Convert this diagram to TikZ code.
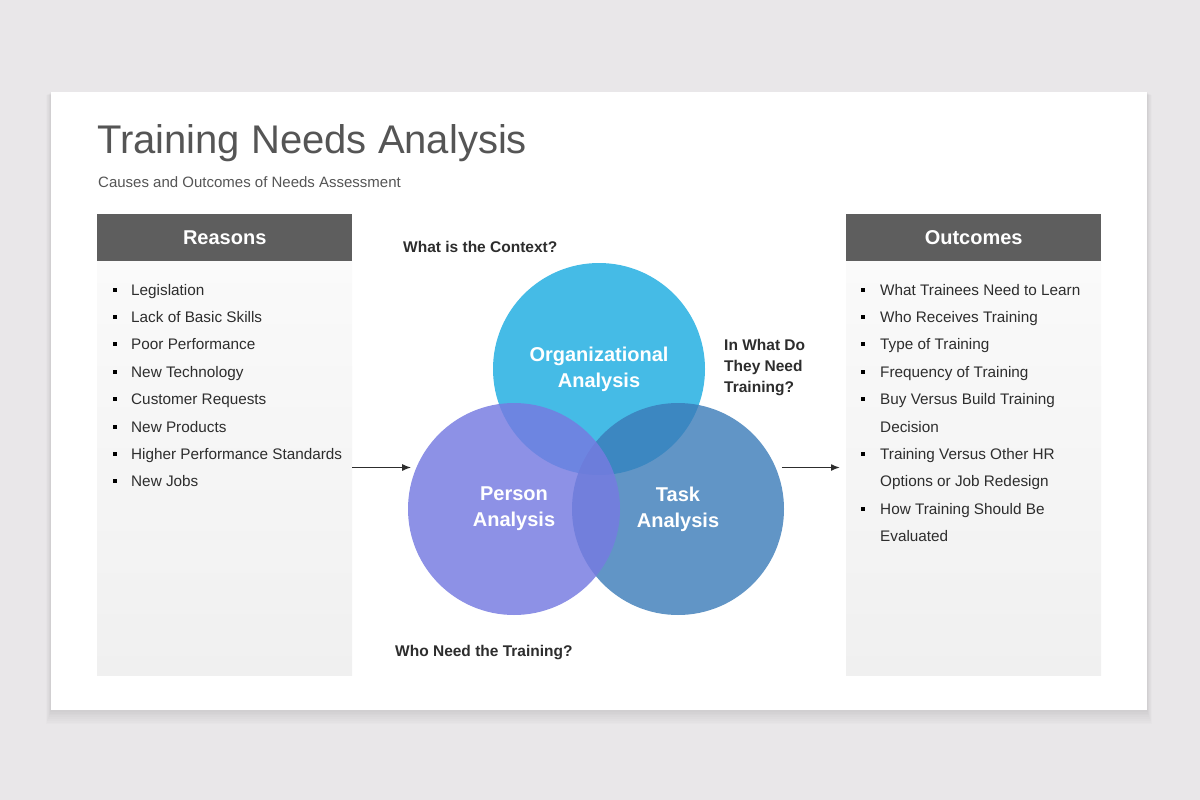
\documentclass[tikz,border=0pt]{standalone}
\usepackage{fontspec}
\setmainfont{Liberation Sans}
\usetikzlibrary{positioning,arrows.meta,calc}
\definecolor{pagegrey}{RGB}{233,231,233}
\definecolor{headgrey}{RGB}{94,94,94}
\definecolor{inkgrey}{RGB}{45,45,45}
\definecolor{titlegrey}{RGB}{85,85,85}
\definecolor{boxtop}{RGB}{250,250,250}
\definecolor{boxbottom}{RGB}{240,240,240}
\definecolor{orgblue}{RGB}{69,187,230}
\definecolor{personviolet}{RGB}{118,123,225}
\definecolor{taskblue}{RGB}{58,123,184}
\tikzset{
    % column header bar
    colhead/.style={
        fill=headgrey,
        text=white,
        font=\fontsize{20}{24}\selectfont\bfseries,
        minimum width=255pt,
        minimum height=47pt,
        inner sep=0pt,
    },
    % column body
    colbody/.style={
        top color=boxtop,
        bottom color=boxbottom,
        minimum width=255pt,
        minimum height=414pt,
        inner sep=0pt,
    },
    % list line
    listitem/.style={
        text=inkgrey,
        font=\fontsize{15.3}{19}\selectfont,
        anchor=base west,
        inner sep=0pt,
    },
    % square bullet
    bulletsq/.style={
        fill=black,
        minimum size=4pt,
        inner sep=0pt,
    },
    % Venn circle
    venn/.style={
        circle,
        minimum size=212pt,
        inner sep=0pt,
        text=white,
        text opacity=1,
        align=center,
        font=\fontsize{20}{26}\selectfont\bfseries,
    },
    % question label
    ask/.style={
        text=inkgrey,
        font=\fontsize{15.5}{21}\selectfont\bfseries,
        align=left,
        inner sep=0pt,
    },
    flow/.style={
        draw=inkgrey,
        line width=1.5pt,
        -{Latex[length=9pt,width=7pt]},
    },
}

\begin{document}
\begin{tikzpicture}[x=1pt,y=-1pt]
    \useasboundingbox (0,0) rectangle (1200,800);
    \fill[pagegrey] (0,0) rectangle (1200,800);
    % slide with soft shadow
    \foreach \s in {1,...,8}
        \fill[black,opacity=0.01] (51-\s*0.6,92+\s*0.4) rectangle (1147+\s*0.6,710+\s*1.8);
    \fill[white] (51,92) rectangle (1147,710);

    \node[anchor=base west,inner sep=0pt,text=titlegrey,font=\fontsize{40}{48}\selectfont] (title) at (97,153) {Training Needs Analysis};
    \node[anchor=base west,inner sep=0pt,text=titlegrey,font=\fontsize{15}{18}\selectfont] (subtitle) at (98,187) {Causes and Outcomes of Needs Assessment};

%REASONS_BEGIN%
    \node[colhead,anchor=north west] (rhead) at (97,214) {Reasons};
    \node[colbody,below=0pt of rhead] (rbody) {};
    \foreach \txt [count=\i] in {Legislation,Lack of Basic Skills,Poor Performance,New Technology,Customer Requests,New Products,Higher Performance Standards,New Jobs} {
        \node[bulletsq] (rb\i) at (115,{289.5+27.4*(\i-1)}) {};
        \node[listitem] (r\i) at (131,{295+27.4*(\i-1)}) {\txt};
    }
%REASONS_END%

%OUTCOMES_BEGIN%
    \node[colhead,anchor=north west] (ohead) at (846,214) {Outcomes};
    \node[colbody,below=0pt of ohead] (obody) {};
    \foreach \b/\txt [count=\i] in {1/What Trainees Need to Learn,1/Who Receives Training,1/Type of Training,1/Frequency of Training,1/Buy Versus Build Training,0/Decision,1/Training Versus Other HR,0/Options or Job Redesign,1/How Training Should Be,0/Evaluated} {
        \ifnum\b=1
            \node[bulletsq] (ob\i) at (862.5,{289.5+27.4*(\i-1)}) {};
        \fi
        \node[listitem] (o\i) at (880,{295+27.4*(\i-1)}) {\txt};
    }
%OUTCOMES_END%

%VENN_BEGIN%
    \node[venn,fill=orgblue] (org) at (599,369) {Organizational\\Analysis};
    \node[venn,fill=taskblue,fill opacity=0.8] (task) at (678,509) {Task\\Analysis};
    \node[venn,fill=personviolet,fill opacity=0.83] (person) at (514,509) {Person\\Analysis};

    \node[ask,anchor=base west] (context) at (403,252.5) {What is the Context?};
    \node[ask,anchor=north west] (inwhat) at (724,339) {In What Do\\They Need\\Training?};
    \node[ask,anchor=base west] (who) at (395,656.5) {Who Need the Training?};

    \draw[flow,shorten >=5pt] (rbody.east |- person.157) -- (person.157);
    \draw[flow,shorten <=6pt,shorten >=6pt] (task.23) -- (obody.west |- task.23);
%VENN_END%
\end{tikzpicture}
\end{document}
